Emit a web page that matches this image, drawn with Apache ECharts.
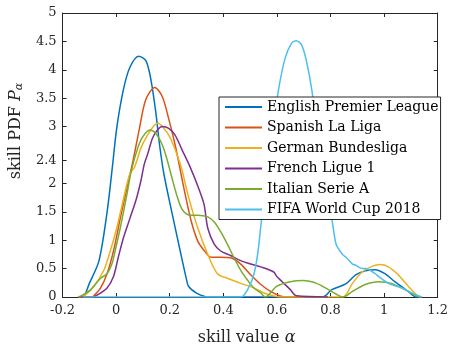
<!DOCTYPE html>
<html>
<head>
<meta charset="utf-8">
<script src="https://cdn.jsdelivr.net/npm/echarts@6/dist/echarts.min.js"></script>
<style>
  html, body { margin: 0; padding: 0; background: #fff; }
  #chart { width: 451px; height: 351px; }
</style>
</head>
<body>
<div id="chart"></div>
<script>
// Skill PDF curves per competition (alpha, density)
const seriesNames = [
  'English Premier League',
  'Spanish La Liga',
  'German Bundesliga',
  'French Ligue 1',
  'Italian Serie A',
  'FIFA World Cup 2018'
];

const eplX = [-0.14, -0.125, -0.10, -0.064, -0.034, -0.015, 0.002, 0.027, 0.051, 0.084, 0.111, 0.13, 0.148, 0.162, 0.178, 0.208, 0.239, 0.262, 0.27, 0.30, 0.33, 0.35, 0.77, 0.805, 0.857, 0.894, 0.93, 0.967, 1.003, 1.04, 1.09, 1.12, 1.14];
const eplY = [0, 0, 0.24, 0.64, 1.49, 2.25, 2.97, 3.65, 4.04, 4.24, 4.16, 3.82, 3.25, 2.68, 2.17, 1.49, 0.81, 0.32, 0.19, 0.07, 0.01, 0, 0, 0.13, 0.23, 0.39, 0.46, 0.48, 0.41, 0.27, 0.10, 0, 0];

const spaX = [-0.14, -0.09, -0.083, -0.058, -0.034, -0.01, 0.015, 0.039, 0.063, 0.087, 0.111, 0.144, 0.172, 0.196, 0.22, 0.242, 0.257, 0.281, 0.305, 0.33, 0.354, 0.39, 0.427, 0.465, 0.502, 0.54, 0.576, 0.612, 0.635, 0.70];
const spaY = [0, 0, 0.02, 0.16, 0.41, 0.81, 1.38, 1.89, 2.40, 2.97, 3.48, 3.69, 3.53, 3.14, 2.68, 2.17, 1.82, 1.32, 0.98, 0.81, 0.70, 0.70, 0.69, 0.58, 0.39, 0.22, 0.10, 0.02, 0, 0];

const gerX = [-0.14, -0.119, -0.083, -0.046, -0.022, 0.002, 0.027, 0.051, 0.069, 0.093, 0.117, 0.142, 0.157, 0.178, 0.202, 0.227, 0.245, 0.269, 0.305, 0.342, 0.378, 0.415, 0.465, 0.514, 0.552, 0.588, 0.61, 0.845, 0.882, 0.918, 0.955, 0.986, 1.016, 1.053, 1.09, 1.125, 1.14];
const gerY = [0, 0.02, 0.19, 0.47, 0.81, 1.21, 1.72, 2.17, 2.29, 2.63, 2.85, 3.02, 3.06, 2.97, 2.80, 2.51, 2.25, 1.78, 1.21, 0.75, 0.41, 0.33, 0.24, 0.16, 0.07, 0.02, 0, 0, 0.24, 0.44, 0.54, 0.57, 0.53, 0.39, 0.19, 0.02, 0];

const fraX = [-0.14, -0.09, -0.076, -0.034, -0.01, 0.008, 0.027, 0.051, 0.075, 0.093, 0.105, 0.117, 0.136, 0.154, 0.172, 0.196, 0.22, 0.245, 0.275, 0.305, 0.328, 0.342, 0.366, 0.39, 0.427, 0.465, 0.502, 0.54, 0.588, 0.60, 0.65, 0.673, 0.79];
const fraY = [0, 0, 0.02, 0.16, 0.36, 0.70, 1.04, 1.38, 1.72, 2.06, 2.34, 2.51, 2.80, 2.94, 3.0, 2.97, 2.85, 2.60, 2.30, 1.95, 1.63, 1.21, 0.93, 0.81, 0.73, 0.64, 0.58, 0.53, 0.44, 0.36, 0.13, 0.02, 0];

const itaX = [-0.143, -0.131, -0.095, -0.058, -0.034, -0.016, -0.004, 0.015, 0.039, 0.057, 0.081, 0.099, 0.126, 0.148, 0.172, 0.19, 0.208, 0.227, 0.245, 0.263, 0.281, 0.305, 0.342, 0.366, 0.39, 0.415, 0.439, 0.465, 0.49, 0.514, 0.54, 0.556, 0.60, 0.65, 0.698, 0.748, 0.796, 0.848, 0.882, 0.93, 0.98, 1.028, 1.077, 1.125, 1.14];
const itaY = [0, 0.02, 0.13, 0.33, 0.41, 0.58, 0.81, 1.21, 1.78, 2.23, 2.63, 2.82, 2.94, 2.88, 2.68, 2.42, 2.10, 1.78, 1.55, 1.46, 1.44, 1.44, 1.41, 1.32, 1.15, 0.93, 0.70, 0.47, 0.30, 0.16, 0.07, 0, 0.19, 0.27, 0.29, 0.24, 0.12, 0, 0.10, 0.22, 0.27, 0.24, 0.13, 0.01, 0];

const wcX = [-0.125, 0.465, 0.493, 0.514, 0.528, 0.54, 0.552, 0.578, 0.606, 0.631, 0.655, 0.672, 0.692, 0.71, 0.73, 0.762, 0.806, 0.821, 0.845, 0.858, 0.882, 0.894, 0.918, 0.93, 0.967, 0.98, 1.016, 1.065, 1.113, 1.14];
const wcY = [0, 0, 0.15, 0.40, 0.75, 1.25, 1.78, 2.75, 3.65, 4.21, 4.47, 4.51, 4.44, 4.16, 3.65, 2.50, 1.35, 0.93, 0.75, 0.70, 0.58, 0.56, 0.50, 0.50, 0.41, 0.36, 0.24, 0.16, 0.05, 0];

const xPairs = [eplX, spaX, gerX, fraX, itaX, wcX];
const yPairs = [eplY, spaY, gerY, fraY, itaY, wcY];
const colors = ['#0072BD', '#D95319', '#EDB120', '#7E2F8E', '#77AC30', '#4DBEEE'];

const xMin = -0.2, xMax = 1.2, xStep = 0.2;
const yTickValues = [0, 0.5, 1, 1.5, 2, 2.4, 3, 3.5, 4, 4.5, 5];

const axisColor = '#262626';
const serif = 'DejaVu Serif';

const zip = (xs, ys) => xs.map((x, i) => [x, ys[i]]);

const series = seriesNames.map((name, k) => ({
  name: name,
  type: 'line',
  data: zip(xPairs[k], yPairs[k]),
  showSymbol: false,
  smooth: 0.3,
  lineStyle: { width: 1.5, color: colors[k] },
  itemStyle: { color: colors[k] },
  animation: false
}));

const tickFmt = v => String(+(+v).toFixed(1));

const chart = echarts.init(document.getElementById('chart'), null, { renderer: 'canvas' });
chart.setOption({
  animation: false,
  backgroundColor: '#fff',
  grid: { left: 58, right: 11, top: 13, bottom: 43, containLabel: false },
  xAxis: [
    {
      type: 'value', min: xMin, max: xMax, interval: xStep,
      position: 'bottom',
      axisLine: { show: true, onZero: false, lineStyle: { color: axisColor, width: 1 } },
      axisTick: { show: true, inside: true, length: 4, lineStyle: { color: axisColor } },
      axisLabel: { color: axisColor, fontFamily: serif, fontSize: 13, margin: 7, formatter: tickFmt },
      splitLine: { show: false },
      name: 'skill value {a|α}',
      nameLocation: 'middle',
      nameGap: 33,
      nameTextStyle: {
        color: axisColor, fontFamily: serif, fontSize: 16, padding: [0, 7, 0, 0],
        rich: { a: { fontFamily: serif, fontStyle: 'italic', fontSize: 16, color: axisColor } }
      }
    },
    {
      type: 'value', min: xMin, max: xMax, interval: xStep,
      position: 'top',
      axisLine: { show: true, onZero: false, lineStyle: { color: axisColor, width: 1 } },
      axisTick: { show: true, inside: true, length: 4, lineStyle: { color: axisColor } },
      axisLabel: { show: false },
      splitLine: { show: false }
    }
  ],
  yAxis: [
    {
      type: 'value', min: 0, max: 5,
      position: 'left',
      axisLine: { show: true, onZero: false, lineStyle: { color: axisColor, width: 1 } },
      axisTick: { show: true, inside: true, length: 4, customValues: yTickValues, lineStyle: { color: axisColor } },
      axisLabel: { color: axisColor, fontFamily: serif, fontSize: 13, margin: 6, customValues: yTickValues, formatter: tickFmt },
      splitLine: { show: false },
      name: 'skill PDF {p|P}{s|α}',
      nameLocation: 'middle',
      nameGap: 33,
      nameRotate: 90,
      nameTextStyle: {
        color: axisColor, fontFamily: serif, fontSize: 16, padding: [0, 0, 0, 48],
        rich: {
          p: { fontFamily: serif, fontStyle: 'italic', fontSize: 16, color: axisColor },
          s: { fontFamily: serif, fontStyle: 'italic', fontSize: 11, color: axisColor, verticalAlign: 'bottom', padding: [7, 0, 0, 0] }
        }
      }
    },
    {
      type: 'value', min: 0, max: 5,
      position: 'right',
      axisLine: { show: true, onZero: false, lineStyle: { color: axisColor, width: 1 } },
      axisTick: { show: true, inside: true, length: 4, customValues: yTickValues, lineStyle: { color: axisColor } },
      axisLabel: { show: false },
      splitLine: { show: false }
    }
  ],
  legend: {
    data: seriesNames,
    orient: 'vertical',
    left: 219,
    top: 97,
    padding: [0, 2, 0, 6],
    itemGap: 0.5,
    itemWidth: 37,
    itemHeight: 2,
    icon: 'rect',
    selectedMode: false,
    backgroundColor: '#fff',
    borderColor: axisColor,
    borderWidth: 1,
    textStyle: { fontFamily: serif, fontSize: 14, color: '#000', lineHeight: 20 }
  },
  series: series
});
</script>
</body>
</html>
